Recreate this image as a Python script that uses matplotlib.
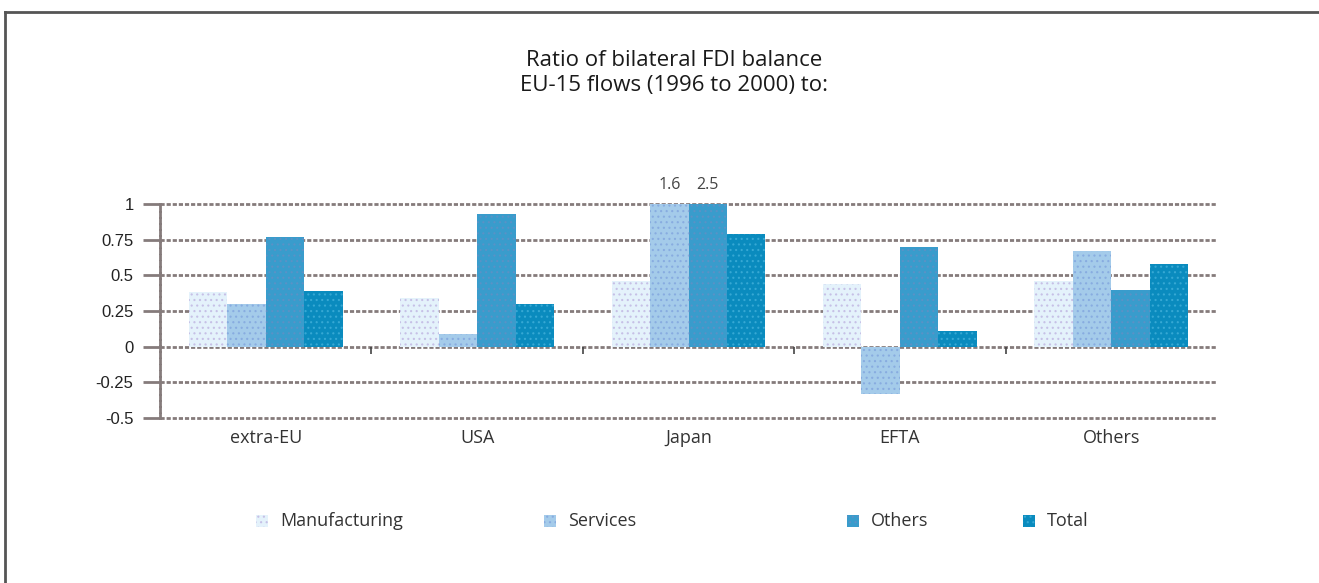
import matplotlib
matplotlib.use("Agg")
import matplotlib.pyplot as plt
import numpy as np
from matplotlib.patches import Rectangle
from matplotlib.lines import Line2D

# Ratio of bilateral FDI balance, EU-15 flows 1996-2000
categories = ["extra-EU", "USA", "Japan", "EFTA", "Others"]
manufacturing = [0.38, 0.34, 0.46, 0.44, 0.46]
services = [0.30, 0.09, 1.6, -0.33, 0.67]
others = [0.77, 0.93, 2.5, 0.70, 0.40]
total = [0.39, 0.30, 0.79, 0.11, 0.58]
series_names = ["Manufacturing", "Services", "Others", "Total"]
y_ticks = [-0.5, -0.25, 0, 0.25, 0.5, 0.75, 1]
y_tick_labels = ["-0.5", "-0.25", "0", "0.25", "0.5", "0.75", "1"]

title_lines = ["Ratio of bilateral FDI balance", "EU-15 flows (1996 to 2000) to:"]

face_colors = ["#e4f2fb", "#a4cbea", "#399ccc", "#0a8bbe"]
dot_colors = ["#c6c0e6", "#88ace0", "#5a92c6", "#36a8d4"]

plt.rcParams["hatch.linewidth"] = 0.8

text_font = ["Open Sans", "DejaVu Sans"]
num_font = ["Liberation Sans", "DejaVu Sans"]
text_color = "#333333"

fig = plt.figure(figsize=(13.19, 5.83), dpi=100)
ax = fig.add_axes([160 / 1319, 1 - 418 / 583, 1057 / 1319, 214 / 583])

x = np.arange(len(categories))
bar_w = 0.182
ymin, ymax = -0.5, 1.0
all_series = [manufacturing, services, others, total]

for i, vals in enumerate(all_series):
    offs = (i - 1.5) * bar_w
    vals = np.asarray(vals, dtype=float)
    shown = np.clip(vals, ymin, ymax)
    ax.bar(x + offs, shown, width=bar_w, color=face_colors[i],
           edgecolor=dot_colors[i], linewidth=0, hatch="...", zorder=3,
           label=series_names[i])
    # values beyond the axis range are written above the bar
    for xi, v in zip(x + offs, vals):
        if v > ymax:
            ax.annotate(f"{v:g}", (xi, ymax), xytext=(0, 8),
                        textcoords="offset points", ha="center", va="bottom",
                        fontsize=11.5, color="#444444", family=text_font)

ax.set_xlim(-0.5, len(categories) - 0.5)
ax.set_ylim(ymin, ymax)
ax.set_yticks(y_ticks)
ax.set_yticklabels(y_tick_labels, family=num_font, fontsize=12, color="#222222")
ax.set_xticks(x)
ax.set_xticklabels(categories, family=text_font, fontsize=13, color=text_color)
ax.tick_params(axis="x", length=0, pad=8)
ax.tick_params(axis="y", length=12, width=2, color="#857b7b", pad=7, direction="out")

grid_style = dict(color="#857b7b", linewidth=2, linestyle=(0, (1.5, 0.7)))
for yv in y_ticks:
    ax.axhline(yv, zorder=1, clip_on=False, **grid_style)

for s in ["top", "right", "bottom"]:
    ax.spines[s].set_visible(False)
ax.spines["left"].set_color("#857b7b")
ax.spines["left"].set_linewidth(2)
ax.spines["left"].set_linestyle((0, (1.5, 0.7)))

# small separators under the zero line between categories
ax.vlines(x[:-1] + 0.5, -0.05, 0, color="#444444", linewidth=1.2, zorder=2)

# title
for k, line in enumerate(title_lines):
    fig.text(674 / 1319, 1 - (60 + 26 * k) / 583, line, ha="center", va="center",
             fontsize=16, family=text_font, color="#1a1a1a")

# legend row
legend_x = [256, 544, 847, 1023]
legend_y = 521
sq = 12
for i, name in enumerate(series_names):
    fig.add_artist(Rectangle((legend_x[i] / 1319, 1 - (legend_y + sq / 2) / 583),
                             sq / 1319, sq / 583, transform=fig.transFigure,
                             facecolor=face_colors[i], edgecolor=dot_colors[i],
                             linewidth=0, hatch="..."))
    fig.text((legend_x[i] + sq + 12) / 1319, 1 - legend_y / 583, name,
             ha="left", va="center", fontsize=13, family=text_font, color=text_color)

# frame lines along the top and left edges
fig.add_artist(Line2D([5 / 1319, 1], [1 - 12 / 583, 1 - 12 / 583],
                      transform=fig.transFigure, color="#555555", linewidth=2))
fig.add_artist(Line2D([5 / 1319, 5 / 1319], [0, 1 - 12 / 583],
                      transform=fig.transFigure, color="#555555", linewidth=2))

fig.savefig("out.png", dpi=100)
